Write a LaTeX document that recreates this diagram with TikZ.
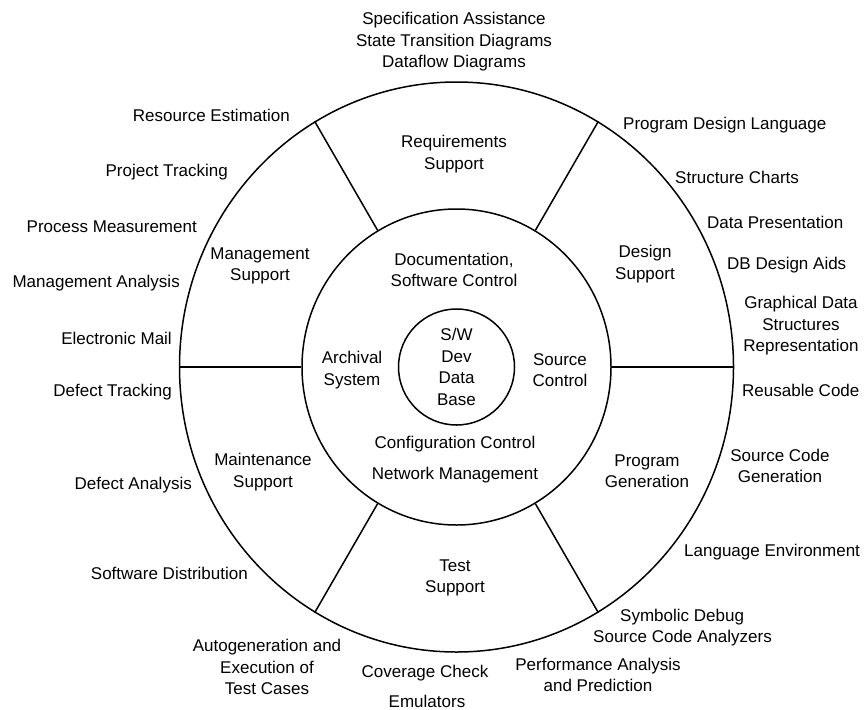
\documentclass[tikz,border=0pt]{standalone}
\usepackage{fontspec}
\setmainfont{Liberation Sans}
\usetikzlibrary{shapes.geometric}

\begin{document}
\begin{tikzpicture}[x=1pt, y=-1pt,
		ring/.style={draw, ellipse, line width=1.5pt, inner sep=0pt},
		lbl/.style={font=\fontsize{17}{21.5}\selectfont, align=center, inner sep=0pt},
		divider/.style={line width=1.5pt}]
		
		\useasboundingbox (0,0) rectangle (866,709);
		
		% Draw the outer ring
		\node (outer) [ring, minimum width=554pt, minimum height=570pt] at (456.5,367) {};
		
		% Draw the middle ring
		\node (middle) [ring, minimum width=309pt, minimum height=316pt] at (456.5,367) {};
		
		% Draw the data base in the centre
		\node (database) [ring, circle, minimum size=116pt, lbl] at (456.5,367) {S/W\\Dev\\Data\\Base};
		
		% Divide the outer ring into six areas
		\foreach \a in {0,60,...,300}
			\draw[divider] (middle.\a) -- (outer.\a);
		
		% Label the support areas
		\node (requirements) [lbl] at (454,154) {Requirements\\Support};
		\node (management) [lbl] at (260,266) {Management\\Support};
		\node (design) [lbl] at (645,264) {Design\\Support};
		\node (program) [lbl] at (647,471) {Program\\Generation};
		\node (test) [lbl] at (455,578) {Test\\Support};
		\node (maintenance) [lbl] at (263,472) {Maintenance\\Support};
		
		% Label the middle ring
		\node (documentation) [lbl] at (454,270) {Documentation,\\Software Control};
		\node (archival) [lbl] at (352,370) {Archival\\System};
		\node (source) [lbl] at (560,370) {Source\\Control};
		\node (configuration) [lbl] at (455,444) {Configuration Control};
		\node (network) [lbl] at (455,475) {Network Management};
		
		% Add the tools on the left
		\node (resource) [lbl, anchor=east] at (290,115) {Resource Estimation};
		\node (tracking) [lbl, anchor=east] at (228,172) {Project Tracking};
		\node (process) [lbl, anchor=east] at (197,227) {Process Measurement};
		\node (analysis) [lbl, anchor=east] at (180,283) {Management Analysis};
		\node (mail) [lbl, anchor=east] at (172,338) {Electronic Mail};
		\node (defecttracking) [lbl, anchor=east] at (172,392) {Defect Tracking};
		\node (defectanalysis) [lbl, anchor=east] at (192,485) {Defect Analysis};
		\node (distribution) [lbl, anchor=east] at (248,573) {Software Distribution};
		
		% Add the tools at the bottom
		\node (autogeneration) [lbl] at (267,667) {Autogeneration and\\Execution of\\Test Cases};
		\node (coverage) [lbl] at (425,673) {Coverage Check};
		\node (emulators) [lbl] at (427,701) {Emulators};
		\node (performance) [lbl] at (598,675) {Performance Analysis\\and Prediction};
		\node (symbolic) [lbl, anchor=west] at (620,617) {Symbolic Debug};
		\node (analyzers) [lbl, anchor=west] at (593,638) {Source Code Analyzers};
		
		% Add the tools on the right
		\node (language) [lbl, anchor=west] at (684,552) {Language Environment};
		\node (generation) [lbl] at (780,466) {Source Code\\Generation};
		\node (reusable) [lbl, anchor=west] at (742,390) {Reusable Code};
		\node (graphical) [lbl] at (801,326) {Graphical Data\\Structures\\Representation};
		\node (dbaids) [lbl, anchor=west] at (727,265) {DB Design Aids};
		\node (presentation) [lbl, anchor=west] at (707,222) {Data Presentation};
		\node (charts) [lbl, anchor=west] at (675,177) {Structure Charts};
		\node (pdl) [lbl, anchor=west] at (623,125) {Program Design Language};
		
		% Add the tools at the top
		\node (specification) [lbl] at (454,42) {Specification Assistance\\State Transition Diagrams\\Dataflow Diagrams};
		
	\end{tikzpicture}
\end{document}
